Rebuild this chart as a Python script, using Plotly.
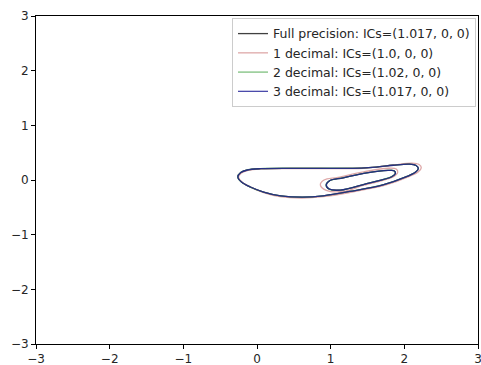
import plotly.graph_objects as go

# Trajectory samples (x, y); None separates the two loops
full_x = [-0.26, -0.22, -0.13, 0.05, 0.45, 0.86, 1.26, 1.42, 1.62, 1.85, 2.07, 2.16, 2.19, 2.15, 2.03, 1.71, 1.26, 0.90, 0.62, 0.32, 0.09, -0.09, -0.21, -0.26,
          None,
          0.94, 0.99, 1.17, 1.49, 1.78, 1.86, 1.88, 1.83, 1.49, 1.13, 0.98, 0.94]
full_y = [0.055, 0.137, 0.183, 0.207, 0.214, 0.214, 0.214, 0.217, 0.235, 0.27, 0.29, 0.265, 0.21, 0.14, 0.06, -0.09, -0.21, -0.29, -0.315, -0.29, -0.22, -0.128, -0.037, 0.055,
          None,
          -0.09, -0.01, 0.04, 0.13, 0.175, 0.17, 0.12, 0.06, -0.065, -0.185, -0.165, -0.09]

dec1_x = [-0.25, -0.21, -0.12, 0.06, 0.46, 0.87, 1.27, 1.44, 1.65, 1.88, 2.10, 2.20, 2.23, 2.19, 2.06, 1.73, 1.27, 0.90, 0.61, 0.31, 0.09, -0.08, -0.20, -0.25,
          None,
          0.86, 0.91, 1.10, 1.45, 1.79, 1.89, 1.91, 1.84, 1.45, 1.17, 0.94, 0.86]
dec1_y = [0.05, 0.13, 0.178, 0.203, 0.21, 0.21, 0.21, 0.215, 0.24, 0.28, 0.31, 0.285, 0.225, 0.15, 0.06, -0.10, -0.225, -0.305, -0.33, -0.305, -0.23, -0.135, -0.04, 0.05,
          None,
          -0.09, 0.0, 0.05, 0.15, 0.215, 0.20, 0.14, 0.05, -0.095, -0.21, -0.19, -0.09]

dec2_x = [-0.262, -0.222, -0.132, 0.048, 0.448, 0.858, 1.258, 1.418, 1.618, 1.848, 2.068, 2.158, 2.188, 2.148, 2.028, 1.708, 1.258, 0.898, 0.618, 0.318, 0.088, -0.092, -0.212, -0.262,
          None,
          0.937, 0.987, 1.167, 1.487, 1.777, 1.857, 1.877, 1.827, 1.487, 1.127, 0.977, 0.937]
dec2_y = [0.055, 0.137, 0.184, 0.208, 0.215, 0.215, 0.215, 0.218, 0.236, 0.271, 0.291, 0.266, 0.211, 0.141, 0.061, -0.089, -0.209, -0.291, -0.316, -0.291, -0.221, -0.129, -0.038, 0.055,
          None,
          -0.091, -0.011, 0.041, 0.131, 0.176, 0.171, 0.121, 0.061, -0.066, -0.186, -0.166, -0.091]

dec3_x = [-0.26, -0.22, -0.13, 0.05, 0.45, 0.86, 1.26, 1.42, 1.62, 1.85, 2.07, 2.16, 2.19, 2.15, 2.03, 1.71, 1.26, 0.90, 0.62, 0.32, 0.09, -0.09, -0.21, -0.26,
          None,
          0.94, 0.99, 1.17, 1.49, 1.78, 1.86, 1.88, 1.83, 1.49, 1.13, 0.98, 0.94]
dec3_y = [0.055, 0.137, 0.183, 0.207, 0.214, 0.214, 0.214, 0.217, 0.235, 0.27, 0.29, 0.265, 0.21, 0.14, 0.06, -0.09, -0.21, -0.29, -0.315, -0.29, -0.22, -0.128, -0.037, 0.055,
          None,
          -0.09, -0.01, 0.04, 0.13, 0.175, 0.17, 0.12, 0.06, -0.065, -0.185, -0.165, -0.09]

names = ["Full precision: ICs=(1.017, 0, 0)",
         "1 decimal: ICs=(1.0, 0, 0)",
         "2 decimal: ICs=(1.02, 0, 0)",
         "3 decimal: ICs=(1.017, 0, 0)"]
colors = ["rgba(0,0,0,0.75)", "rgba(200,110,110,0.6)", "rgba(40,150,40,0.6)", "rgba(30,30,150,0.8)"]
series = [(full_x, full_y), (dec1_x, dec1_y), (dec2_x, dec2_y), (dec3_x, dec3_y)]

fig = go.Figure()
for (xs, ys), name, col in zip(series, names, colors):
    fig.add_trace(go.Scatter(x=xs, y=ys, mode="lines", name=name,
                             line=dict(color=col, width=1.3, shape="spline", smoothing=1.0),
                             connectgaps=False))

axis_common = dict(range=[-3, 3], tickvals=[-3, -2, -1, 0, 1, 2, 3], showgrid=False, zeroline=False,
                   showline=True, linecolor="black", linewidth=1, mirror=True,
                   ticks="outside", ticklen=4, tickcolor="black", automargin=False,
                   ticklabeloverflow="allow",
                   tickfont=dict(family="DejaVu Sans", size=12, color="#262626"))
fig.update_xaxes(**axis_common)
fig.update_yaxes(**axis_common)

fig.update_layout(
    width=481, height=365,
    margin=dict(l=36, r=3, t=16, b=21),
    plot_bgcolor="white", paper_bgcolor="white",
    font=dict(family="DejaVu Sans", size=12, color="#262626"),
    legend=dict(x=0.9955, y=0.994, xanchor="right", yanchor="top",
                bgcolor="rgba(255,255,255,0.8)", bordercolor="#cccccc", borderwidth=1,
                itemwidth=30, tracegroupgap=0,
                font=dict(family="DejaVu Sans", size=12.5, color="#262626")),
)

fig.write_html("out.html")
